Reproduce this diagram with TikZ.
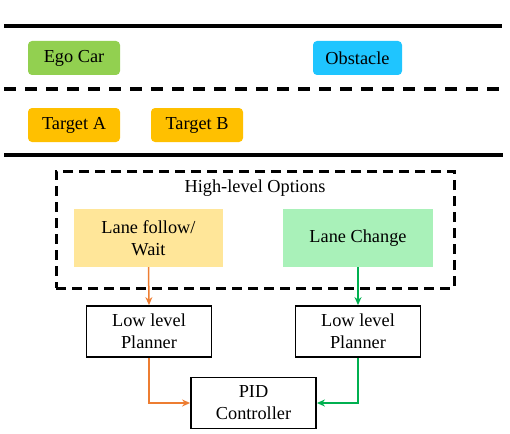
\documentclass[tikz,border=0pt]{standalone}
\usepackage{fontspec}
\setmainfont{Liberation Serif}
\usetikzlibrary{arrows.meta}
\definecolor{egog}{HTML}{92D050}
\definecolor{obst}{HTML}{1FC5FF}
\definecolor{targ}{HTML}{FFC000}
\definecolor{lfw}{HTML}{FFE699}
\definecolor{lch}{HTML}{A9F1B9}
\definecolor{orng}{HTML}{ED7D31}
\definecolor{grn}{HTML}{00B050}
\tikzset{
  x=1pt, y=-1pt,
  lbl/.style={font=\fontsize{18.3}{22}\selectfont, text=black, inner sep=0pt, align=center},
  tag/.style={lbl, rounded corners=4pt, minimum width=92pt, minimum height=34pt},
  opt/.style={lbl, minimum width=149pt, minimum height=58pt},
  blk/.style={lbl, draw=black, line width=1.8pt, minimum width=125pt, minimum height=51pt},
  road/.style={line width=4pt},
  conn/.style={line width=1.5pt, -{Stealth[length=8pt,width=7pt]}}
}
\begin{document}
\begin{tikzpicture}
\useasboundingbox (0,0) rectangle (510,433);
% road lines
\coordinate (r1a) at (4,26); \coordinate (r1b) at (502,26);
\coordinate (r2a) at (4,89); \coordinate (r2b) at (500,89);
\coordinate (r3a) at (4,155); \coordinate (r3b) at (503,155);
\draw[road] (r1a) -- (r1b);
\draw[line width=3.5pt, dash pattern=on 12pt off 9pt] (r2a) -- (r2b);
\draw[road] (r3a) -- (r3b);
% tags
\node[tag, fill=egog] (ego) at (74,58) {Ego Car};
\node[tag, fill=obst, minimum width=89pt] (obs) at (357.5,58) {Obstacle};
\node[tag, fill=targ] (ta) at (74,125) {Target A};
\node[tag, fill=targ] (tb) at (197,125) {Target B};
% high-level box
\node[draw=black, line width=3pt, dash pattern=on 10pt off 6pt, minimum width=398pt, minimum height=117pt, inner sep=0pt] (hl) at (255,229.5) {};
\node[lbl] (hlt) at (255,188) {High-level Options};
\node[opt, fill=lfw] (lf) at (148.5,238) {Lane follow/\\Wait};
\node[opt, fill=lch, minimum width=150pt] (lc) at (358,238) {Lane Change};
% low level
\node[blk] (lp1) at (149,331.5) {Low level\\Planner};
\node[blk] (lp2) at (358,331.5) {Low level\\Planner};
\node[blk] (pid) at (253.5,403) {PID\\Controller};
% connectors
\draw[conn, orng] (lf.south) -- (lp1.north);
\draw[conn, grn] (lc.south) -- (lp2.north);
\draw[conn, orng] (lp1.south) |- (pid.west);
\draw[conn, grn] (lp2.south) |- (pid.east);
\end{tikzpicture}
\end{document}
